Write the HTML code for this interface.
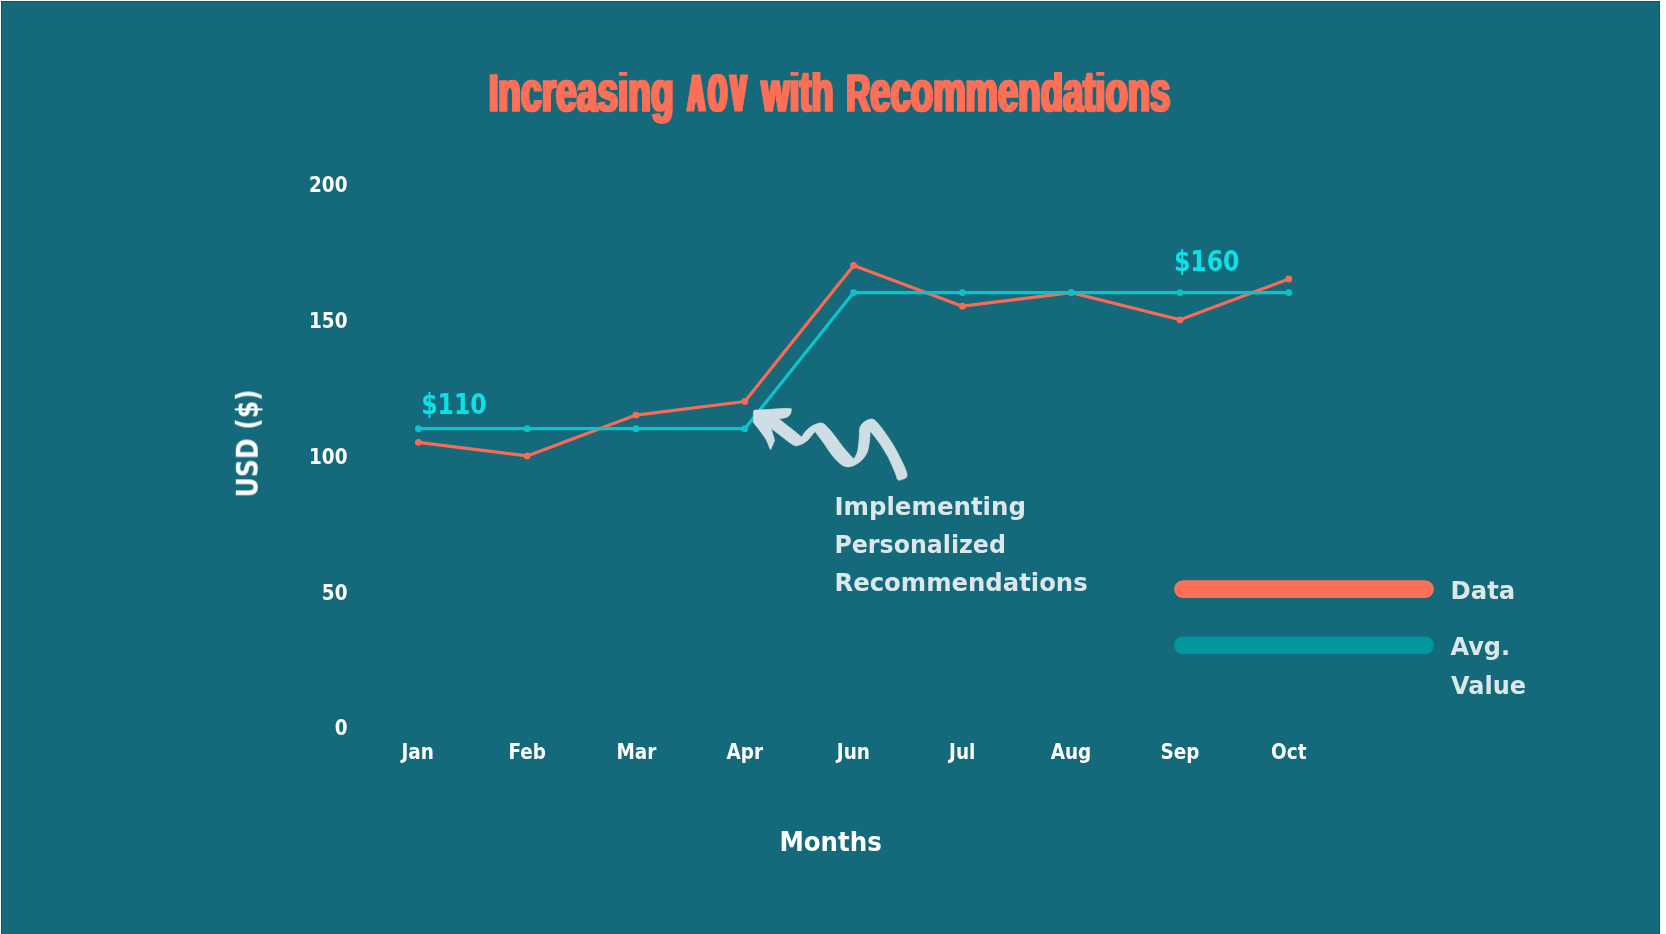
<!DOCTYPE html>
<html lang="en">
<head>
<meta charset="utf-8">
<title>Increasing AOV with Recommendations</title>
<style>
  html, body { margin: 0; padding: 0; background: #ffffff; overflow: hidden; }
  body { width: 1666px; height: 934px; position: relative; }
  svg { position: absolute; left: 0; top: 0; display: block; }
  svg { font-family: "DejaVu Sans", "Liberation Sans", sans-serif; font-weight: 700; }
  .title { font-family: "Liberation Sans", sans-serif; }
  .tick { fill: #ffffff; font-size: 20.5px; font-family: "DejaVu Sans Condensed", "DejaVu Sans", "Liberation Sans", sans-serif; }
  .cond { font-family: "DejaVu Sans Condensed", "DejaVu Sans", "Liberation Sans", sans-serif; }
  .ann  { fill: #dde8ed; font-size: 24px; }
  .val  { fill: #0be3e8; font-size: 27.8px; font-family: "DejaVu Sans Condensed", "DejaVu Sans", "Liberation Sans", sans-serif; }
</style>
</head>
<body>
<svg width="1666" height="934" viewBox="0 0 1666 934">
  <!-- canvas -->
  <rect x="0" y="0" width="1666" height="934" fill="#ffffff"/>
  <rect x="1" y="1" width="1659" height="934" fill="#005a6e"/>
  <rect x="2" y="2" width="1657" height="934" fill="#146a7a"/>

  <g opacity="0.999">
  <!-- title -->
  <defs>
    <filter id="heavy" x="-2%" y="-20%" width="104%" height="140%"><feMorphology operator="dilate" radius="1 0"/></filter>
    <filter id="heavy2" x="-10%" y="-20%" width="120%" height="140%"><feMorphology operator="dilate" radius="2 0"/></filter>
    <clipPath id="capline"><rect x="470" y="72" width="720" height="70"/></clipPath>
  </defs>
  <g clip-path="url(#capline)" class="title" font-size="57" fill="#fe7058" stroke="#fe7058" stroke-width="1.6" stroke-linejoin="round">
    <text y="111.2" filter="url(#heavy)"><tspan x="488.9" textLength="184.8" lengthAdjust="spacingAndGlyphs"><tspan font-size="52">I</tspan>ncreasing</tspan></text>
    <g filter="url(#heavy2)"><text transform="translate(688.0 111.2) scale(0.44 1)" font-size="52" stroke-width="1.2" letter-spacing="9.5">AOV</text></g>
    <text y="111.2" filter="url(#heavy)"><tspan x="761.5" textLength="72.0" lengthAdjust="spacingAndGlyphs">with</tspan> <tspan x="846.2" textLength="324.2" lengthAdjust="spacingAndGlyphs"><tspan font-size="52">R</tspan>ecommendations</tspan></text>
  </g>

  <!-- y ticks -->
  <g class="tick" text-anchor="end">
    <text x="347.5" y="192.4">200</text>
    <text x="347.5" y="328.2">150</text>
    <text x="347.5" y="463.9">100</text>
    <text x="347.5" y="599.7">50</text>
    <text x="347.5" y="735.4">0</text>
  </g>

  <!-- x ticks -->
  <g class="tick" text-anchor="middle">
    <text x="417.6" y="759.4">Jan</text>
    <text x="527.3" y="759.4">Feb</text>
    <text x="636.4" y="759.4">Mar</text>
    <text x="744.8" y="759.4">Apr</text>
    <text x="853.4" y="759.4">Jun</text>
    <text x="962.2" y="759.4">Jul</text>
    <text x="1071.0" y="759.4">Aug</text>
    <text x="1180.0" y="759.4">Sep</text>
    <text x="1288.8" y="759.4">Oct</text>
  </g>

  <!-- axis titles -->
  <text x="830.6" y="850.5" fill="#ffffff" font-size="26" text-anchor="middle" textLength="102.4" lengthAdjust="spacingAndGlyphs">Months</text>
  <text class="cond" transform="translate(257.8 443.4) rotate(-90)" fill="#ffffff" font-size="30.3" text-anchor="middle" textLength="107.9" lengthAdjust="spacingAndGlyphs">USD ($)</text>

  <!-- data series -->
  <g fill="none" stroke-linejoin="round" stroke-linecap="round" stroke-width="3.2">
    <polyline stroke="#f76d57" points="418.4,442.3 527.2,455.9 636.0,415.1 744.8,401.5 853.6,265.4 962.4,306.2 1071.2,292.6 1180.0,319.8 1288.8,279.0"/>
  </g>
  <g fill="#f76d57"><circle cx="418.4" cy="442.3" r="3.4"/><circle cx="527.2" cy="455.9" r="3.4"/><circle cx="636.0" cy="415.1" r="3.4"/><circle cx="744.8" cy="401.5" r="3.4"/><circle cx="853.6" cy="265.4" r="3.4"/><circle cx="962.4" cy="306.2" r="3.4"/><circle cx="1071.2" cy="292.6" r="3.4"/><circle cx="1180.0" cy="319.8" r="3.4"/><circle cx="1288.8" cy="279.0" r="3.4"/></g>
  <g fill="none" stroke-linejoin="round" stroke-linecap="round" stroke-width="3.2">
    <polyline stroke="#0ec4cc" points="418.4,428.7 527.2,428.7 636.0,428.7 744.8,428.7 853.6,292.6 962.4,292.6 1071.2,292.6 1180.0,292.6 1288.8,292.6"/>
  </g>
  <g fill="#0ec4cc"><circle cx="418.4" cy="428.7" r="3.4"/><circle cx="527.2" cy="428.7" r="3.4"/><circle cx="636.0" cy="428.7" r="3.4"/><circle cx="744.8" cy="428.7" r="3.4"/><circle cx="853.6" cy="292.6" r="3.4"/><circle cx="962.4" cy="292.6" r="3.4"/><circle cx="1071.2" cy="292.6" r="3.4"/><circle cx="1180.0" cy="292.6" r="3.4"/><circle cx="1288.8" cy="292.6" r="3.4"/></g>

  <!-- value labels -->
  <text class="val" x="421.2" y="414.2" textLength="65.5" lengthAdjust="spacingAndGlyphs">$110</text>
  <text class="val" x="1174.0" y="271.4" textLength="65.5" lengthAdjust="spacingAndGlyphs">$160</text>

  <!-- hand-drawn arrow -->
  <path fill="#d0dfe6" stroke="#d0dfe6" stroke-width="0.6" stroke-linejoin="round" d="M779.1,419.0 C780.9,420.4 786.2,424.6 790.0,427.6 C793.8,430.6 799.7,435.4 801.6,437.0 C802.2,436.1 804.0,433.1 805.4,431.5 C806.8,429.9 808.4,428.5 810.0,427.3 C811.6,426.1 813.1,425.2 814.8,424.5 C816.5,423.8 818.6,422.8 820.4,422.9 C822.1,423.0 823.0,422.9 825.3,424.9 C827.6,426.9 831.0,431.1 834.1,434.9 C837.2,438.7 840.4,443.8 843.7,447.8 C847.0,451.8 852.1,457.1 853.8,459.0 C854.4,457.8 856.5,455.3 857.4,451.8 C858.3,448.3 858.8,442.1 859.2,438.1 C859.6,434.1 858.9,430.4 859.8,427.7 C860.7,424.9 862.6,423.1 864.6,421.6 C866.6,420.2 869.8,418.9 871.8,419.0 C873.8,419.1 874.7,420.0 876.7,422.0 C878.7,424.0 881.1,427.0 883.9,430.9 C886.7,434.8 890.4,440.1 893.5,445.3 C896.6,450.5 900.2,457.8 902.4,462.2 C904.5,466.6 905.7,469.4 906.4,471.8 C907.1,474.2 907.3,475.5 906.8,476.7 C906.3,477.9 904.7,478.6 903.2,479.1 C901.7,479.6 899.4,481.0 898.0,479.9 C896.6,478.8 896.6,476.3 895.1,472.7 C893.6,469.1 891.2,463.0 888.7,458.2 C886.2,453.4 883.0,448.2 879.9,443.7 C876.8,439.2 871.8,433.1 870.2,431.0 C870.1,432.9 869.9,438.6 869.4,442.1 C868.9,445.6 868.6,448.9 867.4,451.8 C866.2,454.8 864.3,457.6 862.2,459.8 C860.1,462.0 857.4,463.8 855.0,465.0 C852.6,466.2 850.1,467.0 847.8,466.9 C845.5,466.8 843.8,466.5 841.3,464.6 C838.8,462.8 835.6,459.6 832.5,455.8 C829.4,452.1 825.8,446.2 822.9,442.1 C820.0,438.1 816.3,433.3 815.0,431.5 C814.2,432.5 811.4,436.1 810.0,437.7 C808.6,439.3 808.1,440.0 806.7,441.1 C805.3,442.2 803.4,443.5 801.6,444.3 C799.8,445.1 797.5,445.9 795.8,445.8 C794.1,445.7 793.8,445.3 791.3,443.7 C788.8,442.1 784.3,438.5 781.0,436.0 C777.7,433.5 772.9,429.8 771.3,428.6 L774.6,440.5 L770.7,449.8 C770.5,449.4 770.0,448.9 769.2,447.2 C768.5,445.5 767.7,442.5 766.2,439.8 C764.7,437.1 762.1,433.9 760.0,431.0 C757.9,428.1 754.5,423.9 753.4,422.5 C753.4,420.9 753.3,414.6 753.4,412.6 C753.5,410.6 753.5,411.0 754.0,410.6 C754.5,410.2 753.2,410.2 756.2,410.0 C759.2,409.8 766.4,409.5 772.0,409.2 C777.6,408.9 786.4,408.2 789.6,408.4 C792.8,408.6 791.0,409.4 791.2,410.3 C791.4,411.2 791.2,412.4 790.6,413.5 C790.0,414.6 789.3,416.1 787.4,417.0 C785.5,417.9 780.5,418.7 779.1,419.0 Z"/>

  <!-- annotation -->
  <g class="ann">
    <text x="834.4" y="514.6" textLength="191.5" lengthAdjust="spacingAndGlyphs">Implementing</text>
    <text x="834.4" y="552.8" textLength="171.5" lengthAdjust="spacingAndGlyphs">Personalized</text>
    <text x="834.4" y="590.7" textLength="253.3" lengthAdjust="spacingAndGlyphs">Recommendations</text>
  </g>

  <!-- legend -->
  <rect x="1174" y="580.3" width="260" height="17.6" rx="8.8" fill="#ff7059"/>
  <rect x="1174" y="636.5" width="260" height="17.6" rx="8.8" fill="#00979f"/>
  <g class="ann">
    <text x="1450.6" y="599.2" textLength="64.6" lengthAdjust="spacingAndGlyphs">Data</text>
    <text x="1450.5" y="655.4">Avg.</text>
    <text x="1451.0" y="693.7" textLength="75" lengthAdjust="spacingAndGlyphs">Value</text>
  </g>
  </g>
</svg>
</body>
</html>
